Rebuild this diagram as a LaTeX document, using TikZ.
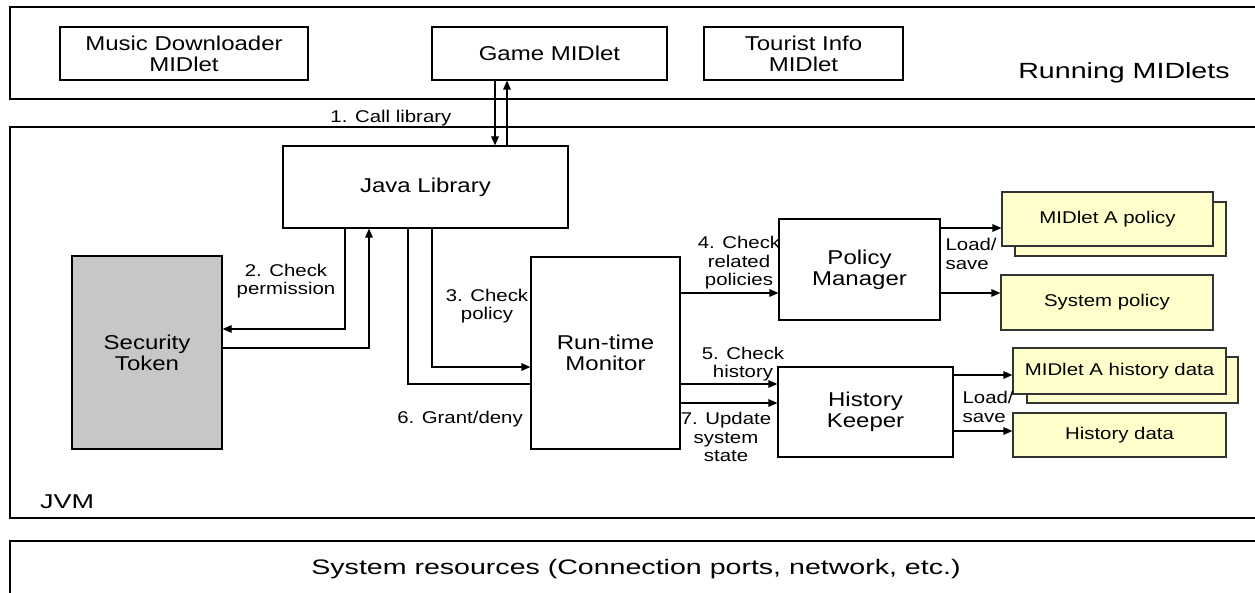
\documentclass[tikz,border=0pt]{standalone}
\usepackage{fontspec}
\setmainfont{Liberation Sans}[FakeStretch=1.2]
\usetikzlibrary{arrows.meta}
\definecolor{notepaper}{RGB}{255,255,204}

\begin{document}
\begin{tikzpicture}[
        x=0.5pt, y=-0.5pt,
        every path/.style={line width=0.6pt},
        >={Triangle[length=4.5pt,width=3.8pt]},
        layer/.style={draw, rectangle, inner sep=0pt, minimum width=627.5pt},
        box/.style={draw, rectangle, inner sep=0pt, align=center, font=\fontsize{10}{10.5}\selectfont},
        store/.style={draw=black!80, fill=notepaper, rectangle, inner sep=0pt, font=\fontsize{8.5}{10}\selectfont},
        lbl/.style={inner sep=0pt, align=center, font=\fontsize{8.5}{9.3}\selectfont}
    ]
    \useasboundingbox[fill=white] (0,0) rectangle (1255,593);

    % layers
    \node[layer, minimum height=46pt] (midlets) at (637.5,53) {};
    \node[layer, minimum height=195.5pt] (jvm) at (637.5,322.5) {};
    \node[layer, minimum height=40pt] (sysres) at (637.5,581) {};
    \node[inner sep=0pt, font=\fontsize{11}{13}\selectfont\addfontfeature{FakeStretch=1.3}] (midletslbl) at (1124,73) {Running MIDlets};
    \node[inner sep=0pt, font=\fontsize{10}{12}\selectfont\addfontfeature{FakeStretch=1.35}] (jvmlbl) at (67,502) {JVM};
    \node[inner sep=0pt, font=\fontsize{10.5}{12}\selectfont\addfontfeature{FakeStretch=1.36}] (sysreslbl) at (636,569) {System resources (Connection ports, network, etc.)};

    % running midlets
    \node[box, minimum width=124pt, minimum height=26.5pt] (musicdl) at (184,53.5) {Music Downloader\\MIDlet};
    \node[box, minimum width=117.5pt, minimum height=26.5pt] (game) at (549.5,53.5) {Game MIDlet};
    \node[box, minimum width=99.5pt, minimum height=26.5pt] (tourist) at (803.5,53.5) {Tourist Info\\MIDlet};

    % jvm parts
    \node[box, minimum width=142.5pt, minimum height=41pt] (javalib) at (425.5,187) {Java Library};
    \node[box, fill=black!22, minimum width=75pt, minimum height=96.5pt] (sectoken) at (147,352.5) {Security\\Token};
    \node[box, minimum width=74.5pt, minimum height=96pt] (monitor) at (605.5,353) {Run-time\\Monitor};
    \node[box, minimum width=80.5pt, minimum height=50.5pt] (policymgr) at (859.5,269.5) {Policy\\Manager};
    \node[box, minimum width=87.5pt, minimum height=45pt] (histkeeper) at (865.5,412) {History\\Keeper};

    % stores
    \node[store, minimum width=105.5pt, minimum height=27pt] (apolicyback) at (1120.5,229) {};
    \node[store, minimum width=105.5pt, minimum height=27pt] (apolicy) at (1107.5,219) {MIDlet A policy};
    \node[store, minimum width=106pt, minimum height=27.5pt] (syspolicy) at (1107,302.5) {System policy};
    \node[store, minimum width=105.5pt, minimum height=23pt] (ahistoryback) at (1132.5,380) {};
    \node[store, minimum width=106.5pt, minimum height=23pt] (ahistory) at (1119.5,371) {MIDlet A history data};
    \node[store, minimum width=106.5pt, minimum height=22pt] (histdata) at (1119.5,435) {History data};

    % 1. call library
    \draw[->] ([xshift=-27.25pt]game.south) -- ([xshift=-27.25pt]game.south |- javalib.north)
        node[lbl, pos=0.58, left=21.5pt] (calllbl) {1. Call library};
    \draw[->] ([xshift=-21.25pt]game.south |- javalib.north) -- ([xshift=-21.25pt]game.south);

    % 2. check permission
    \draw[->] ([xshift=-40.25pt]javalib.south) |- ([yshift=11.75pt]sectoken.east);
    \draw[->] ([yshift=2.25pt]sectoken.east) -| ([xshift=-28.25pt]javalib.south);
    \node[lbl] (permlbl) at (286,281) {2. Check\\permission};

    % 3. check policy, 6. grant/deny
    \draw[->] ([xshift=3.25pt]javalib.south) |- ([yshift=-7pt]monitor.west);
    \draw ([yshift=-15.5pt]monitor.west) -| ([xshift=-8.75pt]javalib.south);
    \node[lbl] (policylbl) at (487,306) {3. Check\\policy};
    \node[lbl] (grantlbl) at (460,419) {6. Grant/deny};

    % 4, 5, 7
    \draw[->] ([yshift=30pt]monitor.east) -- ([yshift=30pt]monitor.east -| policymgr.west);
    \draw[->] ([yshift=-15.5pt]monitor.east) -- ([yshift=-15.5pt]monitor.east -| histkeeper.west);
    \draw[->] ([yshift=-25pt]monitor.east) -- ([yshift=-25pt]monitor.east -| histkeeper.west);
    \node[lbl] (relatedlbl) at (739,263) {4. Check\\related\\policies};
    \node[lbl] (historylbl) at (743,364) {5. Check\\history};
    \node[lbl] (updatelbl) at (726,437) {7. Update\\system\\state};

    % load/save
    \draw[->] ([yshift=20.75pt]policymgr.east) -- ([yshift=20.75pt]policymgr.east -| apolicy.west);
    \draw[->] ([yshift=-11.75pt]policymgr.east) -- ([yshift=-11.75pt]policymgr.east -| syspolicy.west);
    \draw[->] ([yshift=18.5pt]histkeeper.east) -- ([yshift=18.5pt]histkeeper.east -| ahistory.west);
    \draw[->] ([yshift=-9.5pt]histkeeper.east) -- ([yshift=-9.5pt]histkeeper.east -| histdata.west);
    \node[lbl, align=left, anchor=west] (loadlbla) at (945,254) {Load/\\save};
    \node[lbl, align=left, anchor=west] (loadlblb) at (962,407) {Load/\\save};
\end{tikzpicture}
\end{document}
